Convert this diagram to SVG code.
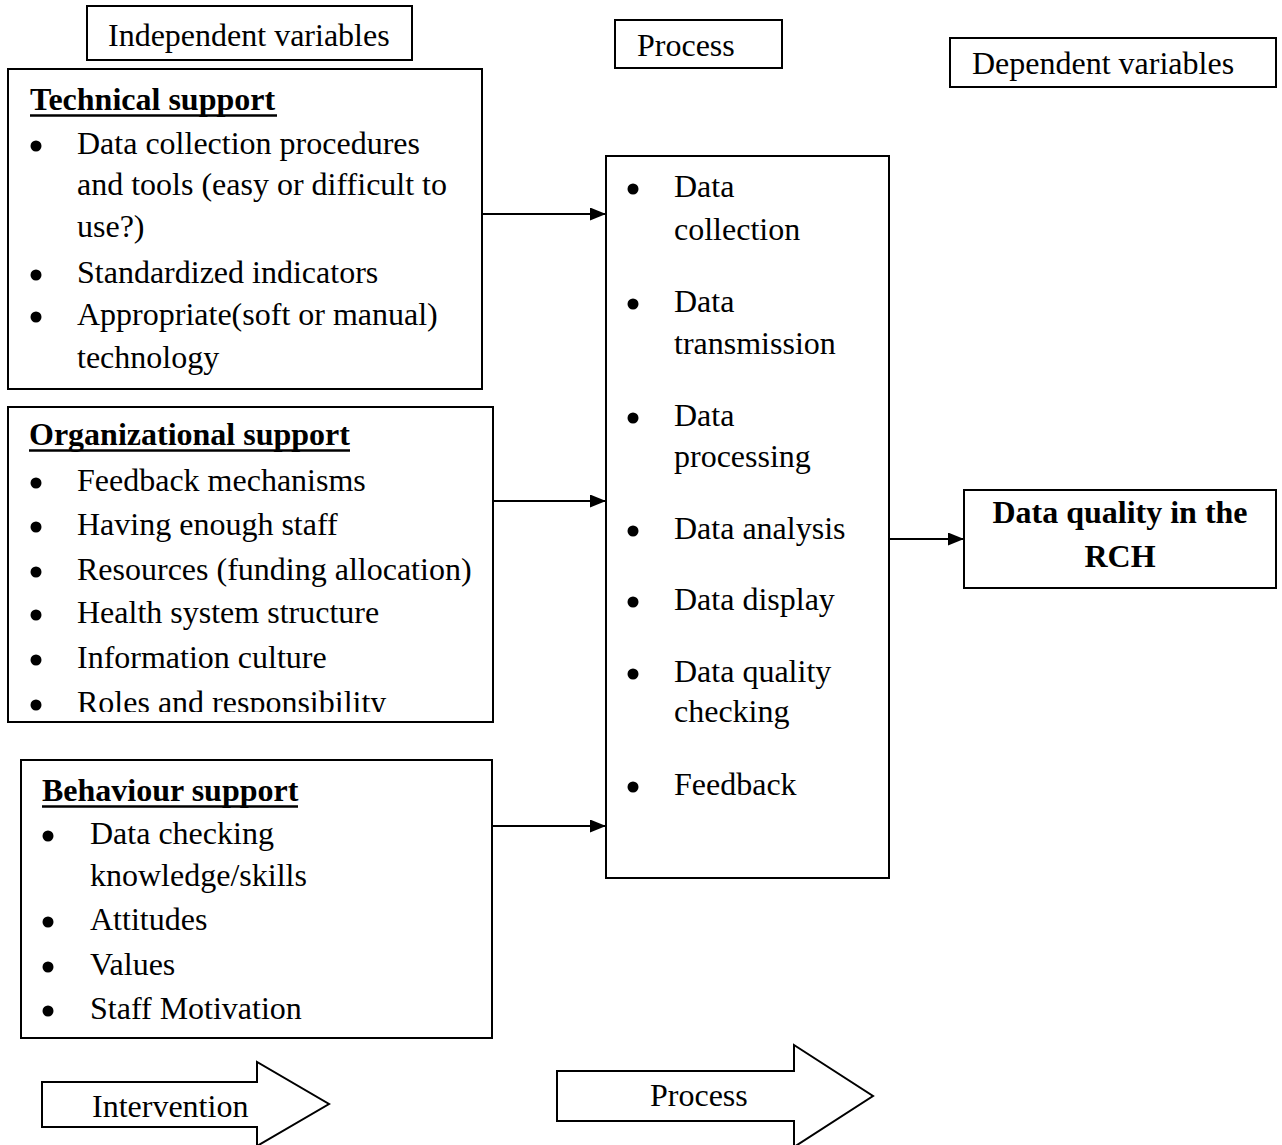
<svg xmlns="http://www.w3.org/2000/svg" width="1282" height="1145" viewBox="0 0 1282 1145">
<style>
text{font-family:"Liberation Serif","Times New Roman",serif;font-size:32px;fill:#000}
.b{font-weight:bold}
.ul{stroke:#000;stroke-width:2.5}
.box{fill:#fff;stroke:#000;stroke-width:2}
.dot{fill:#000}
.ln{stroke:#000;stroke-width:2.2;fill:none}
</style>
<defs>
<marker id="ah" viewBox="0 0 16 13" refX="16" refY="6.5" markerWidth="16" markerHeight="13" markerUnits="userSpaceOnUse" orient="auto">
<path d="M0,0 L16,6.5 L0,13 Z" fill="#000"/>
</marker>
<clipPath id="orgclip"><rect x="8" y="406" width="486" height="306"/></clipPath>
</defs>
<rect width="1282" height="1145" fill="#fff"/>

<g id="hdr-independent">
<rect class="box" x="87" y="6" width="325" height="54"/>
<text x="108" y="46">Independent variables</text>
</g>
<g id="hdr-process">
<rect class="box" x="615" y="20" width="167" height="48"/>
<text x="637" y="56">Process</text>
</g>
<g id="hdr-dependent">
<rect class="box" x="950" y="38" width="326" height="49"/>
<text x="972" y="74">Dependent variables</text>
</g>

<g id="technical">
<rect class="box" x="8" y="69" width="474" height="320"/>
<text x="30" y="110" class="b">Technical support</text>
<line class="ul" x1="30" y1="115.5" x2="277" y2="115.5"/>
<circle class="dot" cx="36" cy="146" r="5.5"/>
<text x="77" y="154">Data collection procedures</text>
<text x="77" y="195">and tools (easy or difficult to</text>
<text x="77" y="237">use?)</text>
<circle class="dot" cx="36" cy="275" r="5.5"/>
<text x="77" y="283">Standardized indicators</text>
<circle class="dot" cx="36" cy="317" r="5.5"/>
<text x="77" y="325">Appropriate(soft or manual)</text>
<text x="77" y="368">technology</text>
</g>

<g id="organizational">
<rect class="box" x="8" y="407" width="485" height="315"/>
<text x="29" y="445" class="b">Organizational support</text>
<line class="ul" x1="29" y1="450.5" x2="350" y2="450.5"/>
<circle class="dot" cx="36" cy="483" r="5.5"/>
<text x="77" y="491">Feedback mechanisms</text>
<circle class="dot" cx="36" cy="527" r="5.5"/>
<text x="77" y="535">Having enough staff</text>
<circle class="dot" cx="36" cy="572" r="5.5"/>
<text x="77" y="580">Resources (funding allocation)</text>
<circle class="dot" cx="36" cy="615" r="5.5"/>
<text x="77" y="623">Health system structure</text>
<circle class="dot" cx="36" cy="660" r="5.5"/>
<text x="77" y="668">Information culture</text>
<circle class="dot" cx="36" cy="705" r="5.5"/>
<text x="77" y="713" clip-path="url(#orgclip)">Roles and responsibility</text>
</g>

<g id="behaviour">
<rect class="box" x="21" y="760" width="471" height="278"/>
<text x="42" y="801" class="b">Behaviour support</text>
<line class="ul" x1="42" y1="806.5" x2="298" y2="806.5"/>
<circle class="dot" cx="48" cy="836" r="5.5"/>
<text x="90" y="844">Data checking</text>
<text x="90" y="886">knowledge/skills</text>
<circle class="dot" cx="48" cy="922" r="5.5"/>
<text x="90" y="930">Attitudes</text>
<circle class="dot" cx="48" cy="967" r="5.5"/>
<text x="90" y="975">Values</text>
<circle class="dot" cx="48" cy="1011" r="5.5"/>
<text x="90" y="1019">Staff Motivation</text>
</g>

<g id="process">
<rect class="box" x="606" y="156" width="283" height="722"/>
<circle class="dot" cx="633" cy="189" r="5.5"/>
<text x="674" y="197">Data</text>
<text x="674" y="240">collection</text>
<circle class="dot" cx="633" cy="304" r="5.5"/>
<text x="674" y="312">Data</text>
<text x="674" y="354">transmission</text>
<circle class="dot" cx="633" cy="418" r="5.5"/>
<text x="674" y="426">Data</text>
<text x="674" y="467">processing</text>
<circle class="dot" cx="633" cy="531" r="5.5"/>
<text x="674" y="539">Data analysis</text>
<circle class="dot" cx="633" cy="602" r="5.5"/>
<text x="674" y="610">Data display</text>
<circle class="dot" cx="633" cy="674" r="5.5"/>
<text x="674" y="682">Data quality</text>
<text x="674" y="722">checking</text>
<circle class="dot" cx="633" cy="787" r="5.5"/>
<text x="674" y="795">Feedback</text>
</g>

<g id="data-quality">
<rect class="box" x="964" y="490" width="312" height="98"/>
<text x="1120" y="523" class="b" text-anchor="middle">Data quality in the</text>
<text x="1120" y="567" class="b" text-anchor="middle">RCH</text>
</g>

<g id="intervention-arrow">
<path class="box" d="M42,1082 L257,1082 L257,1062 L329,1104 L257,1146 L257,1127 L42,1127 Z"/>
<text x="92" y="1117">Intervention</text>
</g>
<g id="process-arrow">
<path class="box" d="M557,1071 L794,1071 L794,1045 L873,1096 L794,1147 L794,1121 L557,1121 Z"/>
<text x="650" y="1106">Process</text>
</g>

<g id="connectors">
<line class="ln" x1="482" y1="214" x2="606" y2="214" marker-end="url(#ah)"/>
<line class="ln" x1="493" y1="501" x2="606" y2="501" marker-end="url(#ah)"/>
<line class="ln" x1="492" y1="826" x2="606" y2="826" marker-end="url(#ah)"/>
<line class="ln" x1="889" y1="539" x2="964" y2="539" marker-end="url(#ah)"/>
</g>
</svg>
